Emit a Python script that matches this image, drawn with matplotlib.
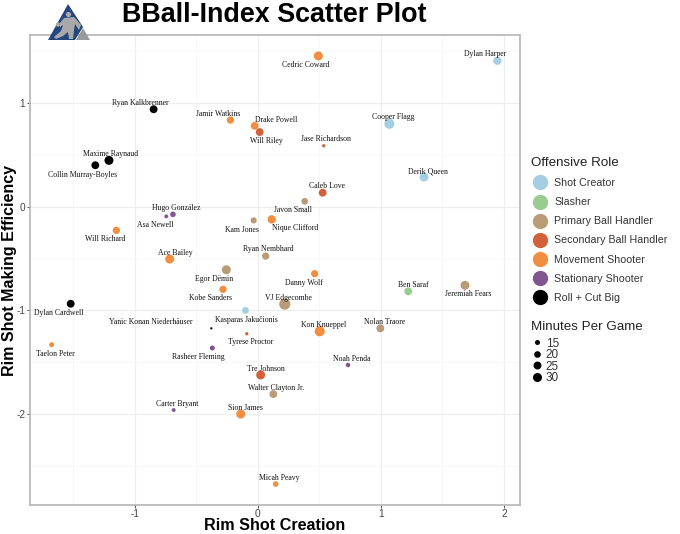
import matplotlib
matplotlib.use('Agg')
import matplotlib.pyplot as plt
from matplotlib.lines import Line2D
from matplotlib.patches import Polygon, Circle
import numpy as np

plt.rcParams['axes.unicode_minus'] = False

# rookies, values
players = ['Ryan Kalkbrenner', 'Jamir Watkins', 'Drake Powell', 'Will Riley', 'Maxime Raynaud',
           'Collin Murray-Boyles', 'Hugo González', 'Asa Newell', 'Will Richard', 'Kam Jones',
           'Ace Bailey', 'Ryan Nembhard', 'Nique Clifford', 'Javon Small', 'Caleb Love',
           'Jase Richardson', 'Cooper Flagg', 'Derik Queen', 'Dylan Harper', 'Cedric Coward',
           'Egor Dёmin', 'Kobe Sanders', 'Dylan Cardwell', 'Kasparas Jakučionis',
           'Yanic Konan Niederhäuser', 'Tyrese Proctor', 'Rasheer Fleming', 'Taelon Peter',
           'Tre Johnson', 'Carter Bryant', 'Sion James', 'Danny Wolf', 'Ben Saraf',
           'Jeremiah Fears', 'VJ Edgecombe', 'Kon Knueppel', 'Nolan Traore', 'Noah Penda',
           'Walter Clayton Jr.', 'Micah Peavy']
creation = [-0.846, -0.222, -0.025, 0.016, -1.209, -1.32, -0.689, -0.743, -1.149, -0.033,
            -0.715, 0.065, 0.114, 0.382, 0.528, 0.537, 1.07, 1.352, 1.948, 0.493,
            -0.255, -0.282, -1.52, -0.10, -0.377, -0.089, -0.369, -1.675, 0.024, -0.683,
            -0.138, 0.463, 1.224, 1.685, 0.22, 0.504, 0.997, 0.734, 0.127, 0.146]
efficiency = [0.94, 0.836, 0.78, 0.72, 0.447, 0.40, -0.074, -0.093, -0.228, -0.132,
              -0.505, -0.476, -0.122, 0.052, 0.135, 0.588, 0.80, 0.286, 1.408, 1.454,
              -0.608, -0.797, -0.936, -1.0, -1.173, -1.225, -1.363, -1.331, -1.623, -1.961,
              -2.0, -0.646, -0.816, -0.758, -0.939, -1.202, -1.173, -1.527, -1.807, -2.675]
minutes = [24.7, 22.4, 24.7, 24.7, 29.7, 24.7, 16.7, 12.4, 22.4, 18.4,
           29.7, 22.4, 27, 20.3, 24.7, 11.3, 35.3, 29.7, 27, 29.7,
           29.7, 22.4, 24.7, 20.3, 9.7, 11.3, 15, 15, 29.7, 12.4,
           29.7, 22.4, 24.7, 29.7, 41.7, 35.3, 24.7, 13.7, 24.7, 16.7]
roles = ['Roll + Cut Big', 'Movement Shooter', 'Movement Shooter', 'Secondary Ball Handler', 'Roll + Cut Big',
         'Roll + Cut Big', 'Stationary Shooter', 'Stationary Shooter', 'Movement Shooter', 'Primary Ball Handler',
         'Movement Shooter', 'Primary Ball Handler', 'Movement Shooter', 'Primary Ball Handler', 'Secondary Ball Handler',
         'Secondary Ball Handler', 'Shot Creator', 'Shot Creator', 'Shot Creator', 'Movement Shooter',
         'Primary Ball Handler', 'Movement Shooter', 'Roll + Cut Big', 'Shot Creator', 'Roll + Cut Big',
         'Secondary Ball Handler', 'Stationary Shooter', 'Movement Shooter', 'Secondary Ball Handler', 'Stationary Shooter',
         'Movement Shooter', 'Movement Shooter', 'Slasher', 'Primary Ball Handler', 'Primary Ball Handler',
         'Movement Shooter', 'Primary Ball Handler', 'Stationary Shooter', 'Primary Ball Handler', 'Movement Shooter']

role_names = ['Shot Creator', 'Slasher', 'Primary Ball Handler', 'Secondary Ball Handler',
              'Movement Shooter', 'Stationary Shooter', 'Roll + Cut Big']
role_colors = ['#a6cee3', '#99cc8f', '#b99c76', '#d2603a', '#f28e3f', '#835590', '#000000']
legend_minutes = [15, 20, 25, 30]

# label offset from its point, in pixels (dx, dy up)
label_dx = [-13.7, -12.3, 22, 6.3, 2, -13, 3.3, -11, -10.7, -12,
            5.3, 2.5, 23.3, -11.3, 4.7, 2.3, 3.7, 3.7, -12.3, -12.7,
            -12, -13, -12, 1.4, -61, 3.6, -14, 4, 4.8, 3.3,
            4.3, -11, 4.7, 2.7, 4, 4.3, 4, 3.7, 2.5, 4]
label_dy = [7, 7, 6.7, -8.3, 7, -8.3, 7, -8, -7.7, -8.7,
            7, 7.7, -8, -8, 7.7, 7.3, 7.3, 7, 7.3, -8,
            -8.3, -8, -8, -8.4, 7, -7.6, -8.3, -8.3, 7.3, 7,
            7, -8.3, 7.3, -8, 7, 7.3, 7, 7.3, 6.7, 7]


def size_pts(m):
    # point diameter grows with sqrt of minutes, px to pt at dpi 100
    d = np.sqrt(3.0 * np.asarray(m, dtype=float) - 25) * 0.72 * 1.12
    return d


W, H = 680, 534
fig = plt.figure(figsize=(W / 100, H / 100), dpi=100, facecolor='white')
ax = fig.add_axes([29.5 / W, 1 - 505 / H, 490 / W, 470.5 / H])

color_of = dict(zip(role_names, role_colors))
ax.scatter(creation, efficiency, s=size_pts(minutes) ** 2, c=[color_of[r] for r in roles],
           linewidths=0, zorder=3)
for name, x, y, dx, dy in zip(players, creation, efficiency, label_dx, label_dy):
    ax.annotate(name, (x, y), xytext=(dx * 0.72, (dy - 1) * 0.72), textcoords='offset points',
                ha='center', va='center', fontsize=5.6, family='Liberation Serif',
                color='#111111', zorder=4)

ax.set_xlim(-1.855, 2.128)
ax.set_ylim(-2.877, 1.661)
ax.set_xticks([-1, 0, 1, 2])
ax.set_yticks([-2, -1, 0, 1])
ax.set_xticks([-1.5, -0.5, 0.5, 1.5], minor=True)
ax.set_yticks([-2.5, -1.5, -0.5, 0.5, 1.5], minor=True)
ax.grid(which='major', color='#eeeeee', linewidth=0.9, zorder=0)
ax.grid(which='minor', color='#f6f6f6', linewidth=0.6, zorder=0)
ax.set_axisbelow(True)
ax.tick_params(which='minor', length=0)
ax.tick_params(which='major', length=2, width=0.7, color='#555555', labelcolor='#444444',
               labelsize=7.3, pad=1)
for lab in ax.get_xticklabels() + ax.get_yticklabels():
    lab.set_family('Liberation Sans')
for s in ax.spines.values():
    s.set_color('#b5b5b5')
    s.set_linewidth(1.2)

fig.text(274.5 / W, 1 - 22.5 / H, 'BBall-Index Scatter Plot', ha='center', va='baseline',
         family='Liberation Sans', fontweight='bold', fontsize=19.4, color='black')
fig.text(275 / W, 1 - 526 / H, 'Rim Shot Creation', ha='center', va='center',
         family='Liberation Sans', fontweight='bold', fontsize=11.6, color='black')
fig.text(9.5 / W, 1 - 270.5 / H, 'Rim Shot Making Efficiency', ha='center', va='center', rotation=90,
         family='Liberation Sans', fontweight='bold', fontsize=11.5, color='black')

# logo, rough shapes
logo = fig.add_axes([0, 0, 1, 1], facecolor='none')
logo.set_xlim(0, W)
logo.set_ylim(H, 0)
logo.axis('off')
logo.add_patch(Polygon([(68, 4), (48, 40), (75, 40), (83, 27)], closed=True, color='#24477f', lw=0))
logo.add_patch(Polygon([(83, 28), (76, 40), (90, 40)], closed=True, color='#9a9a9a', lw=0))
logo.add_patch(Circle((68.5, 14.5), 2.6, color='#a9a9a9', lw=0))
logo.add_patch(Circle((58, 24.5), 2.2, color='#a9a9a9', lw=0))
logo.add_patch(Polygon([(64, 18), (74, 17), (81, 25), (79, 30), (75, 24), (74, 30), (73, 39), (69, 39),
                        (68, 32), (63, 36), (56, 39), (54, 37), (61, 31), (63, 25), (60, 27), (60, 23)],
                       closed=True, color='#a9a9a9', lw=0))

fig.text(531 / W, 1 - 163 / H, 'Offensive Role', ha='left', va='center',
         family='Liberation Sans', fontsize=9.6, color='#222222')
fig.text(531 / W, 1 - 327 / H, 'Minutes Per Game', ha='left', va='center',
         family='Liberation Sans', fontsize=9.6, color='#222222')

role_handles = [Line2D([], [], linestyle='none', marker='o', markersize=11, markerfacecolor=c,
                       markeredgewidth=0, label=n) for n, c in zip(role_names, role_colors)]
leg1 = fig.legend(handles=role_handles, loc='upper left', bbox_to_anchor=(528 / W, 1 - 175 / H),
                  frameon=False, prop={'family': 'Liberation Sans', 'size': 7.7},
                  labelspacing=0.85, handletextpad=0.45, borderpad=0.3, borderaxespad=0, handlelength=1.7)
for t in leg1.get_texts():
    t.set_color('#333333')

min_handles = [Line2D([], [], linestyle='none', marker='o', markersize=float(size_pts(m)),
                      markerfacecolor='black', markeredgewidth=0, label=str(m)) for m in legend_minutes]
leg2 = fig.legend(handles=min_handles, loc='upper left', bbox_to_anchor=(527 / W, 1 - 334 / H),
                  frameon=False, prop={'family': 'Liberation Sans', 'size': 8.5},
                  labelspacing=-0.04, handletextpad=0.2, borderpad=0.3, borderaxespad=0, handlelength=1.1)
for t in leg2.get_texts():
    t.set_color('#333333')

fig.savefig('out.png', dpi=100)
